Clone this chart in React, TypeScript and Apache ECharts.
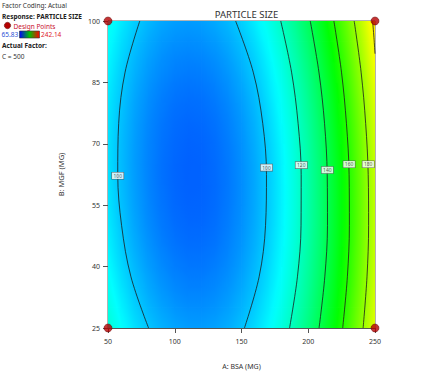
import React, { useEffect, useRef } from "react";
import * as echarts from "echarts";

// ---- data ----
const xGrid = [50, 60, 70, 80, 90, 100, 110, 120, 130, 140, 150, 160, 170, 180, 190, 200, 210, 220, 230, 240, 250];
const yGrid = [25, 30, 35, 40, 45, 50, 55, 60, 65, 70, 75, 80, 85, 90, 95, 100];

// PARTICLE SIZE values (rows follow yGrid, columns follow xGrid)
const row25 = [117.3, 110.5, 104.7, 100.1, 96.6, 94.2, 93.0, 92.8, 93.8, 95.9, 99.1, 103.5, 108.9, 115.5, 123.2, 132.0, 142.0, 153.0, 165.2, 178.5, 192.9];
const row30 = [114.5, 107.7, 102.0, 97.4, 94.0, 91.7, 90.4, 90.4, 91.4, 93.5, 96.8, 101.2, 106.7, 113.3, 121.1, 129.9, 139.9, 151.0, 163.3, 176.6, 191.1];
const row35 = [112.0, 105.3, 99.6, 95.1, 91.7, 89.4, 88.2, 88.2, 89.3, 91.5, 94.8, 99.2, 104.8, 111.5, 119.2, 128.2, 138.2, 149.4, 161.6, 175.0, 189.6];
const row40 = [109.9, 103.2, 97.6, 93.1, 89.8, 87.5, 86.4, 86.4, 87.6, 89.8, 93.2, 97.7, 103.3, 110.0, 117.8, 126.8, 136.9, 148.1, 160.4, 173.9, 188.4];
const row45 = [108.1, 101.4, 95.9, 91.5, 88.2, 86.0, 84.9, 85.0, 86.1, 88.4, 91.8, 96.4, 102.0, 108.8, 116.7, 125.7, 135.8, 147.1, 159.5, 173.0, 187.6];
const row50 = [106.7, 100.1, 94.6, 90.2, 86.9, 84.8, 83.8, 83.9, 85.1, 87.5, 90.9, 95.5, 101.2, 108.0, 116.0, 125.0, 135.2, 146.5, 158.9, 172.5, 187.2];
const row55 = [105.7, 99.1, 93.7, 89.3, 86.1, 84.0, 83.1, 83.2, 84.5, 86.9, 90.4, 95.0, 100.8, 107.7, 115.6, 124.8, 135.0, 146.3, 158.8, 172.4, 187.1];
const row60 = [105.0, 98.5, 93.1, 88.8, 85.6, 83.6, 82.7, 82.9, 84.2, 86.6, 90.2, 94.9, 100.7, 107.6, 115.6, 124.8, 135.1, 146.4, 159.0, 172.6, 187.4];
const row65 = [104.7, 98.2, 92.8, 88.6, 85.5, 83.5, 82.6, 82.9, 84.3, 86.8, 90.4, 95.1, 100.9, 107.9, 116.0, 125.2, 135.5, 147.0, 159.6, 173.2, 188.1];
const row70 = [104.8, 98.3, 93.0, 88.9, 85.8, 83.9, 83.0, 83.3, 84.7, 87.3, 90.9, 95.7, 101.6, 108.6, 116.8, 126.0, 136.4, 147.9, 160.5, 174.3, 189.1];
const row75 = [105.2, 98.8, 93.5, 89.4, 86.4, 84.5, 83.7, 84.1, 85.5, 88.1, 91.8, 96.6, 102.6, 109.7, 117.8, 127.1, 137.6, 149.1, 161.8, 175.6, 190.5];
const row80 = [106.0, 99.6, 94.4, 90.3, 87.4, 85.5, 84.8, 85.2, 86.7, 89.3, 93.1, 98.0, 104.0, 111.1, 119.3, 128.7, 139.1, 150.7, 163.5, 177.3, 192.2];
const row85 = [107.2, 100.9, 95.7, 91.7, 88.8, 87.0, 86.3, 86.7, 88.3, 91.0, 94.8, 99.7, 105.7, 112.9, 121.2, 130.6, 141.1, 152.7, 165.5, 179.4, 194.4];
const row90 = [108.7, 102.4, 97.3, 93.3, 90.5, 88.7, 88.1, 88.6, 90.2, 92.9, 96.8, 101.7, 107.8, 115.0, 123.4, 132.8, 143.4, 155.1, 167.9, 181.8, 196.9];
const row95 = [110.5, 104.4, 99.3, 95.4, 92.5, 90.8, 90.3, 90.8, 92.5, 95.2, 99.1, 104.2, 110.3, 117.6, 125.9, 135.4, 146.1, 157.8, 170.7, 184.6, 199.7];
const row100 = [112.7, 106.6, 101.6, 97.7, 94.9, 93.3, 92.7, 93.3, 95.0, 97.9, 101.8, 106.9, 113.1, 120.4, 128.8, 138.4, 149.0, 160.8, 173.7, 187.7, 202.9];
const surface = [row25, row30, row35, row40, row45, row50, row55, row60, row65, row70, row75, row80, row85, row90, row95, row100];

const responseMin = 65.83;
const responseMax = 242.14;

// contour lines: [BSA, MGF]
const contour100Left = [[80.4, 25], [67.2, 37.5], [60.2, 50], [57.3, 62.5], [58.0, 75], [62.8, 87.5], [73.8, 100]];
const contour100Right = [[152.2, 25], [163.2, 37.5], [168.0, 50], [168.7, 62.5], [165.9, 75], [158.8, 87.5], [145.6, 100]];
const contour120 = [[186.0, 25], [191.9, 37.5], [194.6, 50], [194.7, 62.5], [192.4, 75], [187.5, 87.5], [179.4, 100]];
const contour140 = [[208.1, 25], [212.4, 37.5], [214.4, 50], [214.2, 62.5], [212.2, 75], [208.0, 87.5], [201.5, 100]];
const contour160 = [[225.8, 25], [229.3, 37.5], [230.8, 50], [230.6, 62.5], [228.6, 75], [224.9, 87.5], [219.2, 100]];
const contour180 = [[241.1, 25], [244.0, 37.5], [245.2, 50], [244.9, 62.5], [243.0, 75], [239.6, 87.5], [234.4, 100]];
const contour200 = [[248.2, 100], [249.2, 96], [250, 92]];
const contours = [contour100Left, contour100Right, contour120, contour140, contour160, contour180, contour200];

const contourLabelNames = ["100", "100", "120", "140", "160", "180"];
const contourLabelPos = [[57.3, 62.2], [168.7, 64.2], [194.8, 64.8], [214.3, 63.6], [230.6, 65.0], [244.9, 65.0]];

const designPoints = [[50, 25], [50, 100], [250, 25], [250, 100]];

const xTicks = [50, 100, 150, 200, 250];
const yTicks = [25, 40, 55, 70, 85, 100];

// ---- colour map (blue - cyan - green - yellow - red) ----
const cmapStops: [number, number[]][] = [
  [0, [0, 0, 255]],
  [0.25, [0, 255, 255]],
  [0.5, [0, 255, 0]],
  [0.75, [255, 255, 0]],
  [1, [255, 0, 0]],
];
function colorAt(v: number): string {
  let t = (v - responseMin) / (responseMax - responseMin);
  t = Math.max(0, Math.min(1, t));
  for (let k = 0; k < cmapStops.length - 1; k++) {
    const [t0, c0] = cmapStops[k];
    const [t1, c1] = cmapStops[k + 1];
    if (t <= t1) {
      const f = (t - t0) / (t1 - t0);
      const c = c0.map((a, idx) => Math.round(a + (c1[idx] - a) * f));
      return `rgb(${c[0]},${c[1]},${c[2]})`;
    }
  }
  return "rgb(255,0,0)";
}

const FONT = "Noto Sans";

export default function App() {
  const ref = useRef<HTMLDivElement>(null);
  useEffect(() => {
    if (!ref.current) return;
    const chart = echarts.init(ref.current, null, { renderer: "svg" });

    const cells: number[][] = [];
    for (let j = 0; j < yGrid.length - 1; j++) {
      for (let i = 0; i < xGrid.length - 1; i++) {
        cells.push([xGrid[i], yGrid[j], i, j]);
      }
    }

    const renderCell = (params: any, api: any) => {
      const i = api.value(2);
      const j = api.value(3);
      const p00 = api.coord([xGrid[i], yGrid[j]]);
      const p11 = api.coord([xGrid[i + 1], yGrid[j + 1]]);
      const x = p00[0];
      const y = p11[1];
      const w = p11[0] - p00[0];
      const h = p00[1] - p11[1];
      const v00 = surface[j][i];
      const v10 = surface[j][i + 1];
      const v01 = surface[j + 1][i];
      const v11 = surface[j + 1][i + 1];
      const vc = (v00 + v10 + v01 + v11) / 4;
      const gx = ((v10 + v11) - (v00 + v01)) / 2 / w;
      const gy = ((v00 + v10) - (v01 + v11)) / 2 / h;
      const g = Math.hypot(gx, gy);
      let fill: any;
      if (g < 1e-9) {
        fill = colorAt(vc);
      } else {
        const ux = gx / g;
        const uy = gy / g;
        const L = (Math.abs(ux) * w + Math.abs(uy) * h) / 2;
        const cx = x + w / 2;
        const cy = y + h / 2;
        const stops: any[] = [];
        const n = 4;
        for (let k = 0; k <= n; k++) {
          const f = k / n;
          stops.push({ offset: f, color: colorAt(vc + g * L * (2 * f - 1)) });
        }
        fill = new echarts.graphic.LinearGradient(cx - ux * L, cy - uy * L, cx + ux * L, cy + uy * L, stops, true);
      }
      return {
        type: "rect",
        shape: { x: x - 0.4, y: y - 0.4, width: w + 0.8, height: h + 0.8 },
        style: { fill },
        silent: true,
      };
    };

    const contourSeries = contours.map((pts) => ({
      type: "line",
      data: pts,
      smooth: 0.35,
      showSymbol: false,
      symbol: "none",
      silent: true,
      clip: true,
      lineStyle: { color: "#1c1c1c", width: 0.8 },
      z: 3,
    }));

    const textStyle = { fontFamily: FONT, fontSize: 6.5, fill: "#333" };

    chart.setOption({
      animation: false,
      title: {
        text: "PARTICLE SIZE",
        left: 241.5,
        textAlign: "center",
        top: 4,
        textStyle: { fontFamily: FONT, fontSize: 9.5, fontWeight: "normal", color: "#333" },
      },
      grid: {
        left: 108,
        top: 21,
        width: 267,
        height: 307,
        show: true,
        borderColor: "#666",
        borderWidth: 1,
        backgroundColor: "transparent",
      },
      xAxis: {
        type: "value",
        min: 50,
        max: 250,
        name: "A: BSA (MG)",
        nameLocation: "middle",
        nameGap: 35,
        nameTextStyle: { fontFamily: FONT, fontSize: 7, color: "#333" },
        splitLine: { show: false },
        axisLine: { show: true, lineStyle: { color: "#555", width: 1 } },
        axisTick: { show: true, inside: false, length: 5, lineStyle: { color: "#555" }, customValues: xTicks },
        axisLabel: { fontFamily: FONT, fontSize: 7, color: "#333", margin: 10, customValues: xTicks },
      },
      yAxis: {
        type: "value",
        min: 25,
        max: 100,
        name: "B: MGF (MG)",
        nameLocation: "middle",
        nameGap: 43,
        nameRotate: 90,
        nameTextStyle: { fontFamily: FONT, fontSize: 7.5, color: "#333" },
        splitLine: { show: false },
        axisLine: { show: true, lineStyle: { color: "#555", width: 1 } },
        axisTick: { show: true, inside: false, length: 5, lineStyle: { color: "#555" }, customValues: yTicks },
        axisLabel: { fontFamily: FONT, fontSize: 7, color: "#333", margin: 8, customValues: yTicks },
      },
      series: [
        {
          type: "custom",
          renderItem: renderCell,
          data: cells,
          encode: { x: 0, y: 1 },
          silent: true,
          clip: true,
          z: 1,
        },
        ...contourSeries,
        {
          type: "scatter",
          data: contourLabelPos.map((p, k) => ({ value: p, name: contourLabelNames[k] })),
          symbolSize: 1,
          itemStyle: { color: "transparent" },
          silent: true,
          z: 4,
          label: {
            show: true,
            position: "inside",
            formatter: (p: any) => p.name,
            fontFamily: FONT,
            fontSize: 5,
            color: "#333",
            backgroundColor: "#fff",
            borderColor: "#555",
            borderWidth: 0.6,
            padding: [1, 1.5, 0.5, 1.5],
          },
        },
        {
          type: "scatter",
          data: designPoints,
          symbolSize: 8,
          clip: false,
          silent: true,
          itemStyle: { color: "#b40000", borderColor: "#5c0000", borderWidth: 0.6 },
          z: 5,
        },
      ],
      graphic: [
        { type: "text", left: 2, top: 2, style: { ...textStyle, text: "Factor Coding: Actual" } },
        { type: "text", left: 2, top: 12.5, style: { ...textStyle, text: "Response: PARTICLE SIZE", fontWeight: "bold", fill: "#222" } },
        { type: "circle", shape: { cx: 7.5, cy: 25.5, r: 3.2 }, style: { fill: "#b40000", stroke: "#5c0000", lineWidth: 0.5 } },
        { type: "text", left: 13.5, top: 22.5, style: { ...textStyle, text: "Design Points", fill: "#c8102e" } },
        { type: "text", left: 1.5, top: 31, style: { ...textStyle, text: "65.83", fill: "#2a4fd6" } },
        {
          type: "rect",
          shape: { x: 19.5, y: 31, width: 20, height: 7 },
          style: {
            fill: new echarts.graphic.LinearGradient(0, 0, 1, 0, [
              { offset: 0, color: "#0000ff" },
              { offset: 0.5, color: "#00c000" },
              { offset: 1, color: "#ff0000" },
            ]),
            stroke: "#333",
            lineWidth: 0.6,
          },
        },
        { type: "text", left: 41, top: 31, style: { ...textStyle, text: "242.14", fill: "#e0202a" } },
        { type: "text", left: 2, top: 42, style: { ...textStyle, text: "Actual Factor:", fontWeight: "bold", fill: "#222" } },
        { type: "text", left: 2, top: 53, style: { ...textStyle, text: "C = 500" } },
      ],
    });
    return () => chart.dispose();
  }, []);
  return (
    <div
      ref={ref}
      style={{ position: "fixed", left: 0, top: 0, width: 442, height: 380, background: "#fff" }}
    />
  );
}
